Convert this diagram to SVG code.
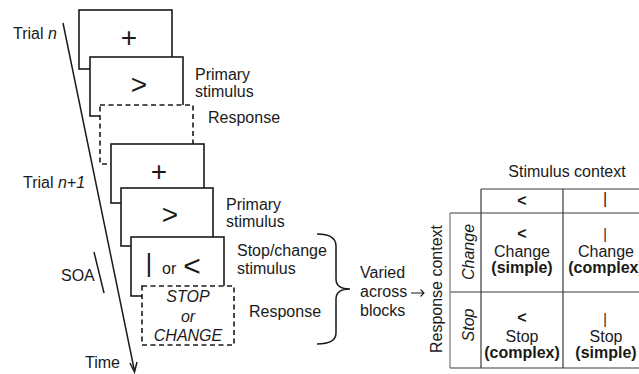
<svg xmlns="http://www.w3.org/2000/svg" width="639" height="374" viewBox="0 0 639 374">
<style>
text{font-family:"Liberation Sans",Arial,sans-serif;font-size:16px;fill:#1a1a1a}
.it{font-style:italic}
.b{font-weight:bold}
.m{text-anchor:middle}
.big{font-size:28px}
.bar{font-size:14px}
.box{fill:#fff;stroke:#1a1a1a;stroke-width:1.6}
.dash{fill:#fff;stroke:#1a1a1a;stroke-width:1.6;stroke-dasharray:5,3.5}
.ln{fill:none;stroke:#1a1a1a;stroke-width:1.5}
.tb{fill:none;stroke:#3a3a3a;stroke-width:1.2}
</style>
<rect width="639" height="374" fill="#fff"/>
<g id="connectors">
<path class="ln" d="M63,23 L134.5,371"/>
<path class="ln" d="M130,363 L134.5,372 L137,362"/>
<path class="ln" d="M94,252 L104,293"/>
<path class="ln" d="M317,234 Q336,234 336,246 L336,279 Q336,289 350,289 Q336,289 336,299 L336,333 Q336,344 317,344"/>
<path class="ln" style="stroke-width:1.1" d="M411,293 L424,293 M420.5,289.5 L424,293 L420.5,296.5"/>
</g>
<g id="labels">
<text x="13" y="39">Trial <tspan class="it">n</tspan></text>
<text x="23" y="188">Trial <tspan class="it">n+1</tspan></text>
<text x="61" y="281">SOA</text>
<text x="85" y="368">Time</text>
</g>
<g id="box1"><rect class="box" x="79" y="10" width="93" height="59"/><text class="big m" x="129" y="47">+</text></g>
<g id="box2"><rect class="box" x="90" y="57" width="93" height="59"/><text class="big m" x="139" y="94">&gt;</text>
<text x="195" y="80">Primary</text><text x="195" y="97">stimulus</text></g>
<g id="box3"><rect class="dash" x="100" y="105" width="93" height="59"/><text x="208" y="123">Response</text></g>
<g id="box4"><rect class="box" x="111" y="144" width="93" height="59"/><text class="big m" x="159" y="181">+</text></g>
<g id="box5"><rect class="box" x="121" y="188" width="92" height="58"/><text class="big m" x="170" y="224">&gt;</text>
<text x="226" y="210">Primary</text><text x="226" y="227">stimulus</text></g>
<g id="box6"><rect class="box" x="131" y="237" width="93" height="59"/>
<text class="m" style="font-size:26px" x="149" y="272">|</text>
<text x="162" y="274">or</text>
<text class="big m" style="font-size:30px" x="192" y="276">&lt;</text>
<text x="237" y="256">Stop/change</text><text x="237" y="274">stimulus</text></g>
<g id="box7"><rect class="dash" x="142" y="286" width="92" height="59"/>
<text class="it m" x="188" y="302">STOP</text><text class="it m" x="188" y="322">or</text><text class="it m" x="188" y="341">CHANGE</text>
<text x="249" y="317">Response</text></g>
<g id="varied"><text x="360" y="278">Varied</text><text x="360" y="297">across</text><text x="360" y="316">blocks</text></g>
<g id="table">
<path class="tb" d="M481,189 H639 M450,213 H639 M450,292 H639 M450,368 H639 M481,189 V368 M563,189 V368"/>
<path fill="none" stroke="#8a8a8a" stroke-width="1.4" d="M450,213 V368"/>
<text class="m" x="567" y="177">Stimulus context</text>
<text transform="translate(442,289) rotate(-90)" class="m">Response context</text>
<text class="b m" x="522" y="206">&lt;</text>
<text class="m" x="605" y="204">|</text>
<text transform="translate(474,252) rotate(-90)" class="it m">Change</text>
<text transform="translate(474,325) rotate(-90)" class="it m">Stop</text>
<text class="b m" x="522" y="239">&lt;</text>
<text class="m" x="522" y="257">Change</text>
<text class="b m" x="522" y="273">(simple)</text>
<text class="bar m" x="605" y="239">|</text>
<text class="m" x="606" y="257">Change</text>
<text class="b m" x="606" y="273">(complex)</text>
<text class="b m" x="522" y="323">&lt;</text>
<text class="m" x="522" y="342">Stop</text>
<text class="b m" x="522" y="358">(complex)</text>
<text class="bar m" x="605" y="324">|</text>
<text class="m" x="606" y="342">Stop</text>
<text class="b m" x="606" y="358">(simple)</text>
</g>
</svg>
